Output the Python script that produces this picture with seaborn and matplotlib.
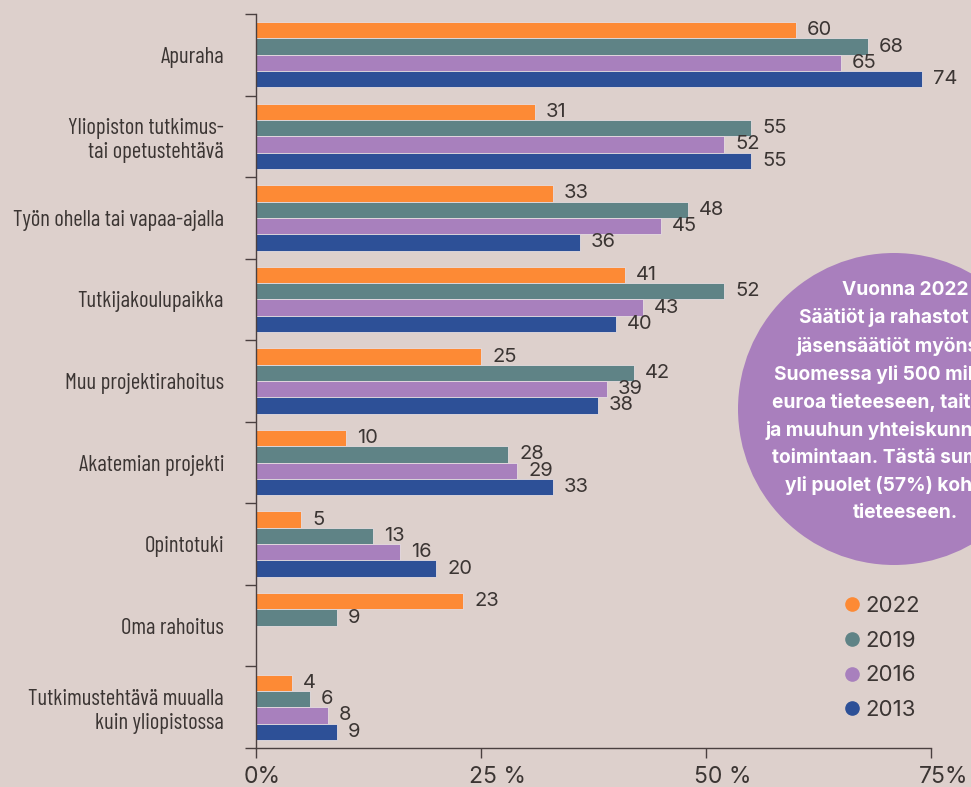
import numpy as np
import pandas as pd
import matplotlib
matplotlib.use("Agg")
import matplotlib.pyplot as plt
from matplotlib.patches import Ellipse
from matplotlib.lines import Line2D
from matplotlib.transforms import ScaledTranslation
import seaborn as sns

# data
categories = ["Apuraha", "Yliopiston tutkimus-\ntai opetustehtävä",
              "Työn ohella tai vapaa-ajalla", "Tutkijakoulupaikka",
              "Muu projektirahoitus", "Akatemian projekti", "Opintotuki",
              "Oma rahoitus", "Tutkimustehtävä muualla\nkuin yliopistossa"]
years = ["2022", "2019", "2016", "2013"]
v2022 = [60, 31, 33, 41, 25, 10, 5, 23, 4]
v2019 = [68, 55, 48, 52, 42, 28, 13, 9, 6]
v2016 = [65, 52, 45, 43, 39, 29, 16, np.nan, 8]
v2013 = [74, 55, 36, 40, 38, 33, 20, np.nan, 9]
xticks = [0, 25, 50, 75]
xticklabels = ["0%", "25 %", "50 %", "75%"]
colors = ["#fd8a35", "#5f8386", "#a880bd", "#2d5097"]

bg = "#ddd0cc"
txt = "#3b3533"
narrow = ['Barlow Condensed', 'DejaVu Sans']

rows = []
for yr, vals in zip(years, [v2022, v2019, v2016, v2013]):
    for c, v in zip(categories, vals):
        rows.append({"kategoria": c, "vuosi": yr, "osuus": v})
df = pd.DataFrame(rows).dropna()

sns.set_style("ticks")
plt.rcParams['font.family'] = ['Inter', 'DejaVu Sans']

W, H = 971, 787
fig = plt.figure(figsize=(W / 100, H / 100), dpi=100, facecolor=bg)
ax = fig.add_axes([256 / W, 1 - 748 / H, (931 - 256) / W, (748 - 14) / H])
ax.set_facecolor(bg)

sns.barplot(data=df, y="kategoria", x="osuus", hue="vuosi", hue_order=years,
            order=categories, palette=colors, orient="h", width=0.8,
            saturation=1, edgecolor="#e6dde0", linewidth=0.6, legend=False,
            ax=ax)

for cont in ax.containers:
    ax.bar_label(cont, fmt="%.0f", padding=8, fontsize=14.5, color=txt)

ax.set_xlim(0, 75)
ax.set_ylim(len(categories) - 0.5, -0.5)
ax.set_xlabel("")
ax.set_ylabel("")

# boundaries as ticks, category names as minor ticks
ax.set_yticks(np.arange(-0.5, len(categories), 1.0))
ax.set_yticklabels([])
ax.set_yticks(np.arange(len(categories)), minor=True)
ax.set_yticklabels(categories, minor=True, fontsize=16.3, color=txt,
                   family=narrow)
ax.tick_params(axis="y", which="minor", length=0, pad=23)
ax.tick_params(axis="y", which="major", length=8, width=1, color="#4a4040")

ax.set_xticks(xticks)
ax.set_xticklabels(xticklabels, fontsize=16.5, color=txt)
ax.tick_params(axis="x", length=7, width=1, color="#4a4040", pad=6)
# number sits on the tick, the % sign trails after it
for lab in ax.get_xticklabels():
    lab.set_horizontalalignment("left")
    lab.set_transform(lab.get_transform() +
                      ScaledTranslation(-12 / 100, 0, fig.dpi_scale_trans))

sns.despine(ax=ax)
for s in ["left", "bottom"]:
    ax.spines[s].set_color("#4a4040")
    ax.spines[s].set_linewidth(1)

# legend
handles = [Line2D([], [], marker="o", linestyle="", markersize=9.5,
                  markerfacecolor=c, markeredgecolor=c, label=y)
           for c, y in zip(colors, years)]
leg = fig.legend(handles=handles, loc="upper left",
                 bbox_to_anchor=(834 / W, 1 - 585 / H), frameon=False,
                 fontsize=16, handlelength=0.6, handletextpad=0.3,
                 labelspacing=0.66, borderpad=0)
for t in leg.get_texts():
    t.set_color(txt)

# info circle
r = 156
fig.add_artist(Ellipse((894 / W, 1 - 409 / H), 2 * r / W, 2 * r / H,
                       transform=fig.transFigure, facecolor="#a97fbd",
                       edgecolor="none"))
info = ("Vuonna 2022\nSäätiöt ja rahastot ry:n\njäsensäätiöt myönsivät\n"
        "Suomessa yli 500 miljoonaa\neuroa tieteeseen, taiteeseen\n"
        "ja muuhun yhteiskunnalliseen\ntoimintaan. Tästä summasta\n"
        "yli puolet (57%) kohdistui\ntieteeseen.")
fig.text(905 / W, 1 - 401.5 / H, info, ha="center", va="center",
         multialignment="center", color="white", fontsize=13.8,
         fontweight="bold", linespacing=1.62)

fig.savefig("out.png", dpi=100, facecolor=bg)
